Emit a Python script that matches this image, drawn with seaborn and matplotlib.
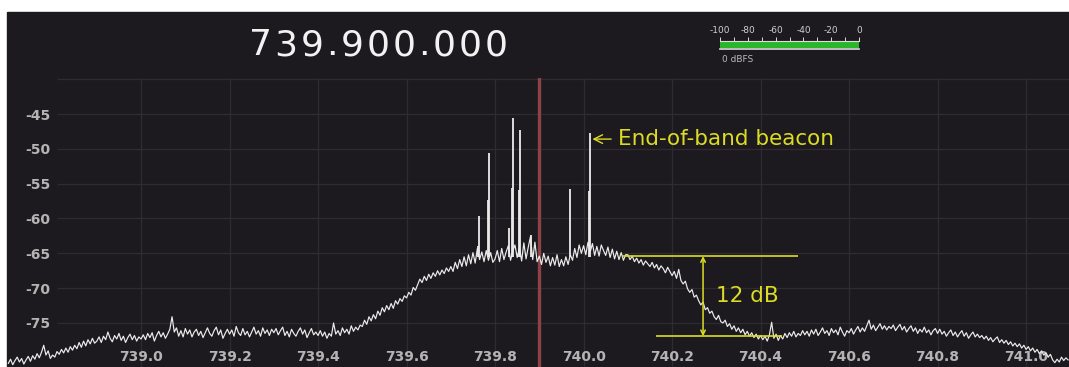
import matplotlib
matplotlib.use("Agg")
import matplotlib.pyplot as plt
from matplotlib.patches import Rectangle
import seaborn as sns
import pandas as pd
import numpy as np

# spectrum trace, one value every 5 kHz starting at 738.700 MHz (dB)
freq_start_mhz = 738.700
freq_step_mhz = 0.005
level_db = [
    -80.8, -80.2, -81.0, -80.4, -79.9, -80.6, -80.1, -80.9, -80.3, -79.8,
    -80.5, -79.7, -80.2, -79.4, -80.0, -79.2, -78.2, -79.6, -79.0, -80.1,
    -79.6, -79.9, -79.1, -79.5, -78.8, -79.3, -78.6, -79.2, -78.4, -78.9,
    -78.2, -78.7, -77.8, -78.5, -77.6, -78.3, -77.4, -78.0, -77.2, -77.9,
    -77.6, -77.0, -77.8, -76.9, -77.4, -76.3, -77.2, -77.7, -76.8, -77.3,
    -76.5, -77.5, -76.9, -77.8, -77.1, -76.6, -77.4, -76.8, -77.6, -77.0,
    -77.3, -76.7, -77.4, -76.5, -77.1, -76.4, -77.6, -76.8, -76.2, -77.0,
    -76.4, -77.2, -76.6, -75.9, -74.1, -76.3, -75.7, -76.9, -76.1, -77.0,
    -75.8, -76.6, -76.0, -77.0, -76.3, -75.9, -76.8, -76.2, -77.1, -76.4,
    -75.7, -76.5, -76.9, -76.1, -75.6, -76.7, -76.0, -77.2, -76.5, -75.9,
    -76.6, -76.0, -76.9, -75.5, -76.4, -76.8, -75.8, -76.7, -76.2, -77.0,
    -76.3, -75.6, -76.6, -76.1, -76.9, -75.7, -76.5, -76.0, -76.8, -75.9,
    -76.4, -75.8, -76.7, -76.1, -75.6, -76.8, -76.2, -77.0, -75.9, -76.5,
    -76.9, -76.2, -75.7, -76.6, -76.0, -77.1, -76.4, -75.8, -76.7, -76.3,
    -76.8, -76.1, -76.9, -76.3, -77.2, -76.5, -76.9, -75.0, -76.6, -76.1,
    -76.8, -75.7, -76.4, -75.9, -76.6, -75.4, -76.2, -75.6, -76.0, -75.3,
    -75.5, -74.6, -75.2, -74.1, -74.7, -73.8, -74.4, -73.3, -73.9, -72.8,
    -73.4, -72.5, -73.1, -72.2, -72.9, -71.8, -72.3, -71.5, -71.9, -71.1,
    -71.4, -70.6, -71.0, -69.9, -70.3, -69.5, -68.7, -69.2, -68.3, -68.9,
    -68.0, -68.6, -67.8, -68.3, -67.5, -68.1, -67.4, -67.9, -67.1, -67.6,
    -66.9, -67.6, -66.3, -67.2, -65.9, -66.9, -65.5, -66.8, -65.2, -66.5,
    -64.9, -66.4, -64.3, -65.9, -64.8, -66.2, -64.6, -66.0, -64.9, -66.3,
    -65.8, -64.6, -66.2, -64.3, -65.9, -64.8, -63.9, -66.0, -64.7, -63.8,
    -65.6, -64.2, -66.1, -63.5, -65.8, -64.1, -62.6, -65.9, -63.4, -66.2,
    -65.4, -66.6, -65.0, -66.3, -65.4, -66.8, -65.6, -66.7, -65.2, -66.9,
    -65.9, -66.8, -65.5, -66.6, -65.2, -66.0, -64.3, -65.6, -63.8, -65.0,
    -63.9, -65.2, -63.4, -64.8, -63.6, -65.3, -64.0, -65.4, -63.8, -64.6,
    -65.3, -64.1, -65.6, -64.4, -65.8, -64.7, -65.9, -64.9, -66.0, -65.2,
    -65.2, -65.9, -65.4, -66.2, -65.7, -66.4, -65.9, -66.7, -66.1, -66.5,
    -66.9, -66.3, -67.1, -66.6, -67.4, -66.8, -67.2, -67.8, -67.0, -67.6,
    -68.2, -67.6, -68.6, -67.3, -68.9, -69.4, -69.0, -70.1, -70.6, -70.2,
    -71.3, -71.0, -71.8, -72.4, -72.0, -73.1, -72.8, -73.6, -73.3, -74.1,
    -74.5, -73.9, -74.8, -75.0, -74.6, -75.5, -75.1, -75.9, -75.4, -76.2,
    -75.7, -76.4, -75.9, -76.7, -76.2, -76.9, -76.4, -77.1, -76.6, -77.3,
    -76.8, -77.4, -76.9, -77.6, -76.7, -74.9, -77.2, -76.6, -77.5, -76.8,
    -77.3, -76.5, -77.1, -76.4, -76.9, -76.2, -77.0, -76.5, -76.8, -76.1,
    -76.7, -76.2, -76.9, -76.0, -76.6, -75.9, -76.8, -76.3, -75.7, -76.5,
    -76.1, -76.8, -75.8, -76.4, -76.0, -76.7, -75.6, -76.3, -76.9, -76.1,
    -76.4, -75.8, -76.6, -76.0, -75.5, -76.3, -75.7, -76.2, -75.4, -74.6,
    -75.9, -75.3, -76.1, -75.6, -75.1, -75.9, -75.4, -76.0, -75.5, -75.8,
    -75.3, -76.1, -75.6, -75.2, -76.0, -75.5, -76.3, -75.8, -75.4, -76.2,
    -75.7, -76.5, -75.9, -76.3, -75.6, -76.4, -76.0, -76.7, -76.1, -75.8,
    -76.5, -75.9, -76.6, -76.2, -76.9, -76.4, -76.0, -76.8, -76.3, -77.0,
    -76.5, -76.1, -76.9, -76.4, -77.2, -76.7, -76.3, -77.0, -76.6, -77.1,
    -76.8, -77.3, -76.9, -77.5, -77.1, -77.7, -77.3, -77.0, -77.8, -77.4,
    -77.9, -77.5, -78.1, -77.7, -78.3, -77.9, -78.4, -78.0, -78.6, -78.2,
    -78.8, -78.4, -79.0, -78.6, -79.2, -78.8, -79.4, -79.0, -79.6, -79.3,
    -79.9, -79.5, -80.3, -80.7, -80.2, -80.6, -79.9, -80.4, -80.0, -80.3,
]

# narrow carriers sticking out of the noise
spike_freq_mhz = [739.762, 739.764, 739.784, 739.786, 739.832, 739.839, 739.841,
                  739.855, 739.857, 739.881, 739.970, 740.013, 740.015]
spike_peak_db = [-64.0, -59.6, -57.3, -50.6, -61.3, -55.6, -45.6,
                 -55.9, -47.3, -62.3, -55.7, -56.0, -47.7]
spike_base_db = [-65.5] * len(spike_freq_mhz)

center_mhz = 739.9
center_hz = 739900000
x_ticks = [739.0, 739.2, 739.4, 739.6, 739.8, 740.0, 740.2, 740.4, 740.6, 740.8, 741.0]
y_ticks = [-75, -70, -65, -60, -55, -50, -45]
grid_levels = [-75, -70, -65, -60, -55, -50, -45, -40]

# beacon marker and the 12 dB shoulder measurement
beacon_freq, beacon_level = 740.020, -48.6
shoulder_top_db, shoulder_bottom_db = -65.4, -76.9
shoulder_top_span = (740.087, 740.485)
shoulder_bottom_span = (740.164, 740.449)
shoulder_arrow_freq = 740.27

meter_ticks = [-100, -80, -60, -40, -20, 0]
meter_level = 0

bg = "#1c1a1e"
grid_c = "#2e2c30"
trace_c = "#ececec"
yellow = "#dcdc24"

W, H = 1069, 367
fig = plt.figure(figsize=(W / 100, H / 100), dpi=100, facecolor="white")
fig.patches.append(Rectangle((7 / W, 0), 1062 / W, 355 / H, transform=fig.transFigure,
                             color=bg, zorder=-5))

ax = fig.add_axes([7 / W, 0, 1062 / W, 289 / H])
ax.set_facecolor(bg)
for s in ax.spines.values():
    s.set_visible(False)

df = pd.DataFrame({
    "freq_mhz": np.round(freq_start_mhz + freq_step_mhz * np.arange(len(level_db)), 3),
    "level_db": level_db,
})

x_min, x_max = 738.697, 741.097
ax.set_xlim(x_min, x_max)
ax.set_ylim(-81.32, -39.83)

ax.hlines(grid_levels, 738.81, x_max, color=grid_c, lw=0.9, zorder=0)
ax.vlines(x_ticks, -81.32, -39.83, color=grid_c, lw=0.9, zorder=0)

ax.set_xticks(x_ticks)
ax.set_xticklabels([f"{t:.1f}" for t in x_ticks])
ax.set_yticks(y_ticks)
ax.set_yticklabels([str(t) for t in y_ticks])
ax.tick_params(axis="x", length=0, pad=-12.5, labelsize=10, labelcolor="#b4b4b4")
ax.tick_params(axis="y", length=0, pad=-31, labelsize=10, labelcolor="#b4b4b4")
for lab in ax.get_xticklabels() + ax.get_yticklabels():
    lab.set_fontweight("bold")

ax.axvline(center_mhz, color="#8c4246", lw=2.4, zorder=1)

sns.lineplot(data=df, x="freq_mhz", y="level_db", ax=ax, color=trace_c,
             lw=0.85, estimator=None, zorder=3)
ax.vlines(spike_freq_mhz, spike_base_db, spike_peak_db, color=trace_c, lw=1.3, zorder=3)
ax.set_xlabel("")
ax.set_ylabel("")

ax.annotate("End-of-band beacon", xy=(beacon_freq, beacon_level),
            xytext=(beacon_freq + 0.058, beacon_level), color=yellow, fontsize=15.5,
            va="center", ha="left",
            arrowprops=dict(arrowstyle="->", color=yellow, lw=1, shrinkA=3, shrinkB=0))

ax.hlines(shoulder_top_db, *shoulder_top_span, color=yellow, lw=1.2, zorder=4)
ax.hlines(shoulder_bottom_db, *shoulder_bottom_span, color=yellow, lw=1.2, zorder=4)
ax.annotate("", xy=(shoulder_arrow_freq, shoulder_top_db),
            xytext=(shoulder_arrow_freq, shoulder_bottom_db),
            arrowprops=dict(arrowstyle="<->", color=yellow, lw=1.1, shrinkA=0, shrinkB=0,
                            mutation_scale=8))
ax.text(shoulder_arrow_freq + 0.03, (shoulder_top_db + shoulder_bottom_db) / 2, "12 dB",
        color=yellow, fontsize=15.5, va="center", ha="left")

# header: tuned frequency, letter-spaced like the receiver display
header = f"{center_hz:,}".replace(",", ".")
cx = 247
for ch in header:
    adv = 14 if ch == "." else 26
    fig.text((cx + adv / 2) / W, 1 - 45 / H, ch, ha="center", va="center",
             fontsize=26, color="#f2f2f2")
    cx += adv

mx = fig.add_axes([720 / W, 1 - 49 / H, 139 / W, 8 / H])
mx.set_facecolor(bg)
mx.barh([0], [meter_level - meter_ticks[0]], left=meter_ticks[0], height=0.8,
        color="#2bb52b")
mx.set_xlim(meter_ticks[0], meter_ticks[-1])
mx.set_ylim(-0.5, 0.5)
mx.set_yticks([])
mx.spines["left"].set_visible(False)
mx.spines["right"].set_visible(False)
mx.spines["top"].set_color("#dddddd")
mx.spines["bottom"].set_color("#dddddd")
mx.spines["top"].set_linewidth(0.8)
mx.spines["bottom"].set_linewidth(1.2)
mx.xaxis.tick_top()
mx.set_xticks(meter_ticks)
mx.set_xticks(np.arange(-90, 0, 20), minor=True)
mx.set_xticklabels([str(t) for t in meter_ticks])
mx.tick_params(axis="x", which="both", direction="out", length=3, width=0.7,
               color="#dddddd", pad=1.5, labelsize=6.5, labelcolor="#cfcfcf")
fig.text(722 / W, 1 - 60 / H, f"{meter_level} dBFS", ha="left", va="center",
         fontsize=6.5, color="#bbbbbb")

fig.savefig("out.png", dpi=100, facecolor="white")
